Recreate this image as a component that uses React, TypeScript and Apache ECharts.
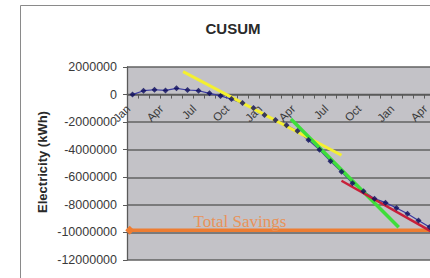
import React, { useEffect, useRef } from "react";
import * as echarts from "echarts";

// Month categories (28 months, label every third)
const categories = [
  "Jan", "Feb", "Mar", "Apr", "May", "Jun", "Jul", "Aug", "Sep", "Oct", "Nov", "Dec",
  "Jan", "Feb", "Mar", "Apr", "May", "Jun", "Jul", "Aug", "Sep", "Oct", "Nov", "Dec",
  "Jan", "Feb", "Mar", "Apr",
];

// CUSUM of electricity (kWh)
const cusum = [
  0, 280000, 350000, 300000, 450000, 330000, 280000, 90000,
  -100000, -330000, -620000, -980000, -1490000, -1850000, -2220000, -2650000,
  -3300000, -4000000, -4840000, -5600000, -6440000, -7020000, -7550000, -7840000,
  -8230000, -8640000, -9130000, -9610000,
];

// Trend lines [monthIndex, kWh]
const yellowFit = [[4.6, 1660000], [19.0, -4400000]];
const greenFit = [[14.4, -1780000], [24.2, -9630000]];
const redFit = [[19.0, -6250000], [27.5, -10080000]];

// Total savings level
const totalSavings = -9850000;
const totalSavingsLine = [[-0.5, totalSavings], [-0.25, totalSavings], [27.5, totalSavings]];

// Y axis
const yMin = -12000000;
const yMax = 2000000;
const yInterval = 2000000;

const SANS = "'Liberation Sans', Arial, sans-serif";
const SERIF = "'Liberation Serif', 'Times New Roman', serif";

const GRID_TOP = 67;
const GRID_BOTTOM = 18;
const CHART_H = 278;

export default function App() {
  const ref = useRef<HTMLDivElement>(null);

  useEffect(() => {
    if (!ref.current) return;
    const chart = echarts.init(ref.current, undefined, { renderer: "svg" });
    const plotH = CHART_H - GRID_TOP - GRID_BOTTOM;
    const zeroFromBottom = (0 - yMin) / (yMax - yMin) * plotH;
    chart.setOption({
      animation: false,
      backgroundColor: "#ffffff",
      grid: {
        left: 127,
        right: 5,
        top: GRID_TOP,
        bottom: GRID_BOTTOM,
        containLabel: false,
        outerBoundsMode: "none",
        show: true,
        backgroundColor: "#c3c2c7",
        borderWidth: 0,
      },
      xAxis: [
        {
          type: "category",
          data: categories,
          boundaryGap: true,
          position: "bottom",
          offset: -zeroFromBottom,
          axisLine: {
            show: true,
            onZero: false,
            lineStyle: { color: "#5a5a5a", width: 1.3 },
          },
          axisTick: { show: true, interval: 0, length: 4, inside: false, lineStyle: { color: "#5a5a5a" } },
          axisLabel: {
            interval: 2,
            rotate: 45,
            margin: 8,
            padding: [0, 6, 0, 0],
            fontSize: 11.5,
            fontFamily: SANS,
            color: "#3a3a3a",
          },
          splitLine: { show: false },
        },
        {
          type: "value",
          min: -0.5,
          max: 27.5,
          show: false,
          axisLine: { onZero: false },
        },
      ],
      yAxis: {
        type: "value",
        min: yMin,
        max: yMax,
        interval: yInterval,
        axisLine: { show: true, onZero: false, lineStyle: { color: "#5a5a5a", width: 1.3 } },
        axisTick: { show: true, length: 4, lineStyle: { color: "#5a5a5a" } },
        axisLabel: {
          margin: 10,
          fontSize: 12.5,
          fontFamily: SANS,
          color: "#3a3a3a",
          formatter: (v: number) => String(v),
        },
        splitLine: { show: true, lineStyle: { color: "#626262", width: 1.5 } },
      },
      series: [
        {
          name: "CUSUM line",
          type: "line",
          data: cusum,
          xAxisIndex: 0,
          symbol: "none",
          lineStyle: { color: "#3a3aa0", width: 1.2 },
          z: 2,
        },
        {
          name: "Total Savings",
          type: "line",
          xAxisIndex: 1,
          data: totalSavingsLine.map((p, i) =>
            i === 1
              ? { value: p, symbol: "diamond", symbolSize: 9, itemStyle: { color: "#ee7d32" } }
              : { value: p, symbol: "none" }
          ),
          showAllSymbol: true,
          lineStyle: { color: "#ee7d32", width: 3.5 },
          z: 3,
        },
        {
          name: "Yellow trend",
          type: "line",
          xAxisIndex: 1,
          data: yellowFit,
          symbol: "none",
          lineStyle: { color: "#f4f030", width: 3 },
          z: 3,
        },
        {
          name: "Green trend",
          type: "line",
          xAxisIndex: 1,
          data: greenFit,
          symbol: "none",
          lineStyle: { color: "#3ede3a", width: 3.5 },
          z: 3,
        },
        {
          name: "Red trend",
          type: "line",
          xAxisIndex: 1,
          data: redFit,
          symbol: "none",
          lineStyle: { color: "#c8203a", width: 2.5 },
          z: 3,
        },
        {
          name: "CUSUM points",
          type: "scatter",
          xAxisIndex: 0,
          data: cusum,
          symbol: "diamond",
          symbolSize: 6,
          itemStyle: { color: "#0c0c5c" },
          z: 4,
        },
      ],
      graphic: [
        {
          type: "rect",
          z: -10,
          silent: true,
          shape: { x: 20.5, y: 5.5, width: 700, height: 600 },
          style: { fill: "none", stroke: "#8a8a8a", lineWidth: 1 },
        },
        {
          type: "text",
          x: 233,
          y: 28,
          style: {
            text: "CUSUM",
            fontSize: 15,
            fontWeight: "bold",
            fontFamily: SANS,
            fill: "#2a2a2a",
            align: "center",
            verticalAlign: "middle",
          },
        },
        {
          type: "text",
          x: 42,
          y: 162,
          rotation: Math.PI / 2,
          style: {
            text: "Electricity (kWh)",
            fontSize: 13,
            fontWeight: "bold",
            fontFamily: SANS,
            fill: "#2a2a2a",
            align: "center",
            verticalAlign: "middle",
          },
        },
        {
          type: "text",
          x: 240,
          y: 221,
          z: 100,
          style: {
            text: "Total Savings",
            fontSize: 17,
            fontFamily: SERIF,
            fill: "#e8935a",
            align: "center",
            verticalAlign: "middle",
          },
        },
      ],
    });
    return () => chart.dispose();
  }, []);

  return (
    <div
      style={{
        position: "fixed",
        left: 0,
        top: 0,
        width: 430,
        height: 278,
        overflow: "hidden",
        background: "#ffffff",
      }}
    >
      <div ref={ref} style={{ width: 440, height: 278 }} />
    </div>
  );
}
